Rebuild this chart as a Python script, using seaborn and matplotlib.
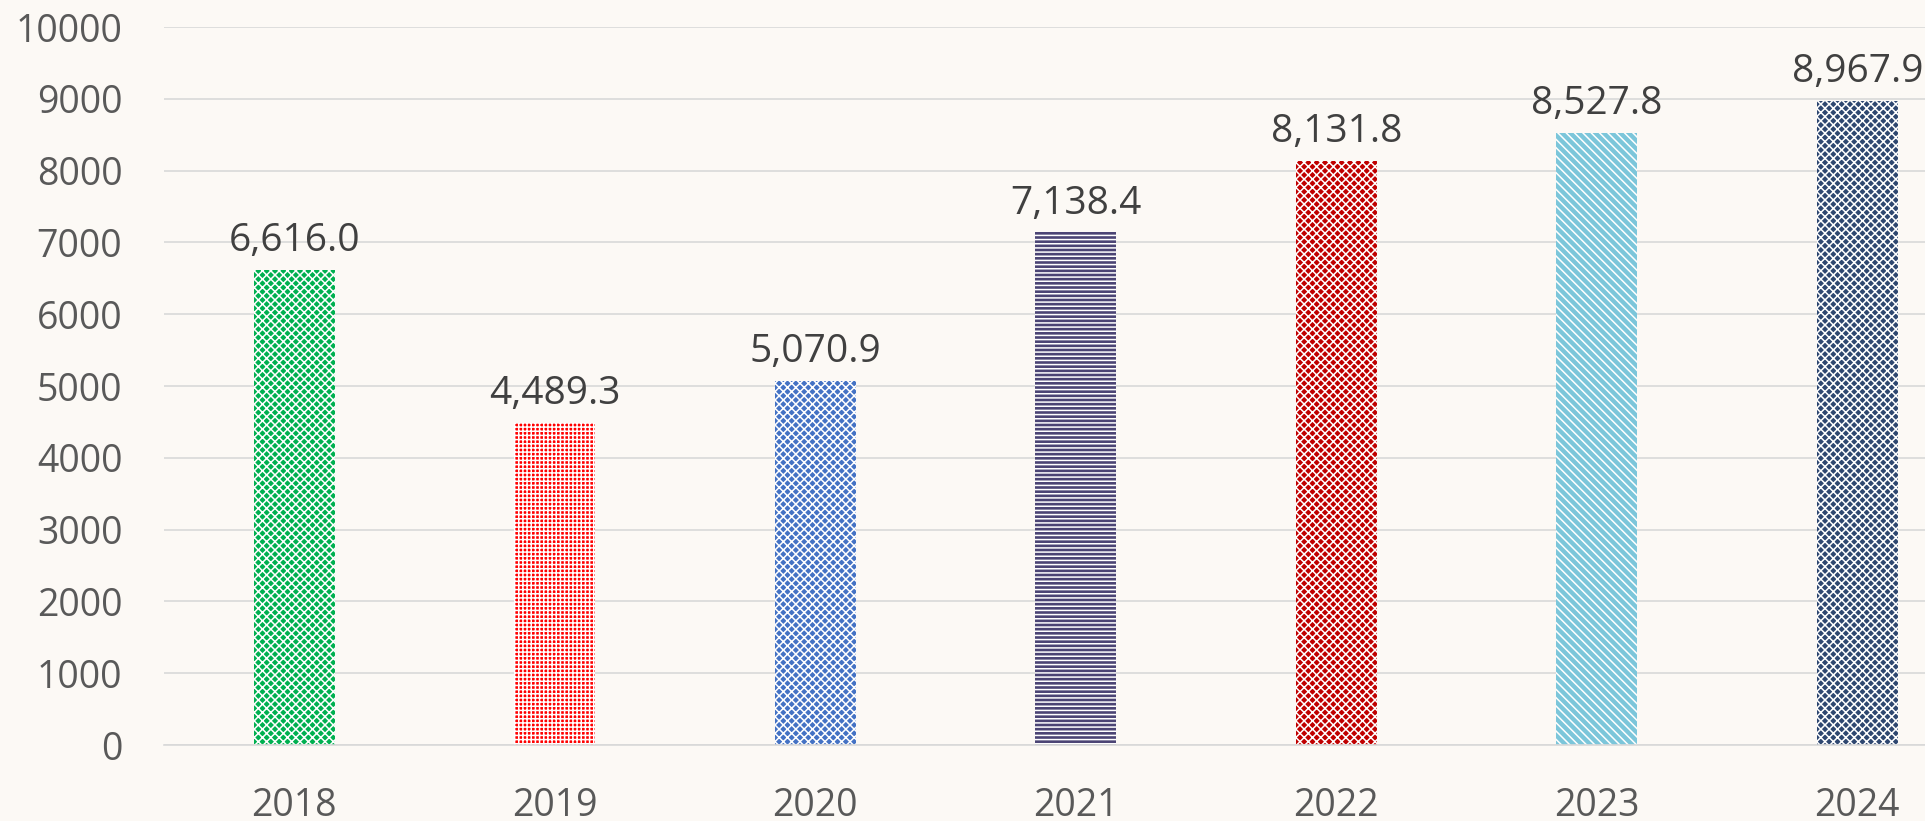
import matplotlib
matplotlib.use("Agg")
import matplotlib.pyplot as plt
import seaborn as sns
import pandas as pd

years = ["2018", "2019", "2020", "2021", "2022", "2023", "2024"]
values = [6616.0, 4489.3, 5070.9, 7138.4, 8131.8, 8527.8, 8967.9]
colors = ["#00B050", "#FF0000", "#4472C4", "#4B4474", "#C00000", "#7CC6DA", "#2E4770"]
hatches = ["xxxx", "++++", "xxxx", "----", "xxxx", "\\\\\\\\", "xxxx"]
yticks = [0, 1000, 2000, 3000, 4000, 5000, 6000, 7000, 8000, 9000, 10000]

sns.set_theme(style="white")
plt.rcParams["font.family"] = ["Open Sans", "DejaVu Sans"]
plt.rcParams["hatch.linewidth"] = 1.1

bg = "#FCF9F5"
fig = plt.figure(figsize=(19.25, 8.21), dpi=100, facecolor=bg)
ax = fig.add_axes([164 / 1925, 1 - 745 / 821, 1 - 164 / 1925, (745 - 27) / 821])
ax.set_facecolor(bg)

df = pd.DataFrame({"year": years, "value": values})
sns.barplot(data=df, x="year", y="value", hue="year", palette=colors,
            width=0.31, legend=False, ax=ax, saturation=1)

for patch, h in zip(ax.patches, hatches):
    patch.set_hatch(h)
    patch.set_edgecolor("white")
    patch.set_linewidth(0)

ax.set_ylim(0, 10000)
ax.set_xlim(-0.5, 6.26)
ax.set_yticks(yticks)
ax.set_yticklabels([str(t) for t in yticks])
ax.yaxis.grid(True, color="#D9D9D9", linewidth=1.2)
ax.set_axisbelow(True)
for s in ["top", "right", "left"]:
    ax.spines[s].set_visible(False)
ax.spines["bottom"].set_color("#D9D9D9")
ax.spines["bottom"].set_linewidth(1.2)
ax.tick_params(axis="y", length=0, pad=30, labelsize=27, labelcolor="#595959")
ax.tick_params(axis="x", length=0, pad=30, labelsize=27, labelcolor="#595959")
ax.set_xlabel("")
ax.set_ylabel("")

for i, v in enumerate(values):
    ax.annotate(f"{v:,.1f}", (i, v), xytext=(0, 7), textcoords="offset points",
                ha="center", va="bottom", fontsize=28, color="#404040")

fig.savefig("out.png", dpi=100, facecolor=bg)
